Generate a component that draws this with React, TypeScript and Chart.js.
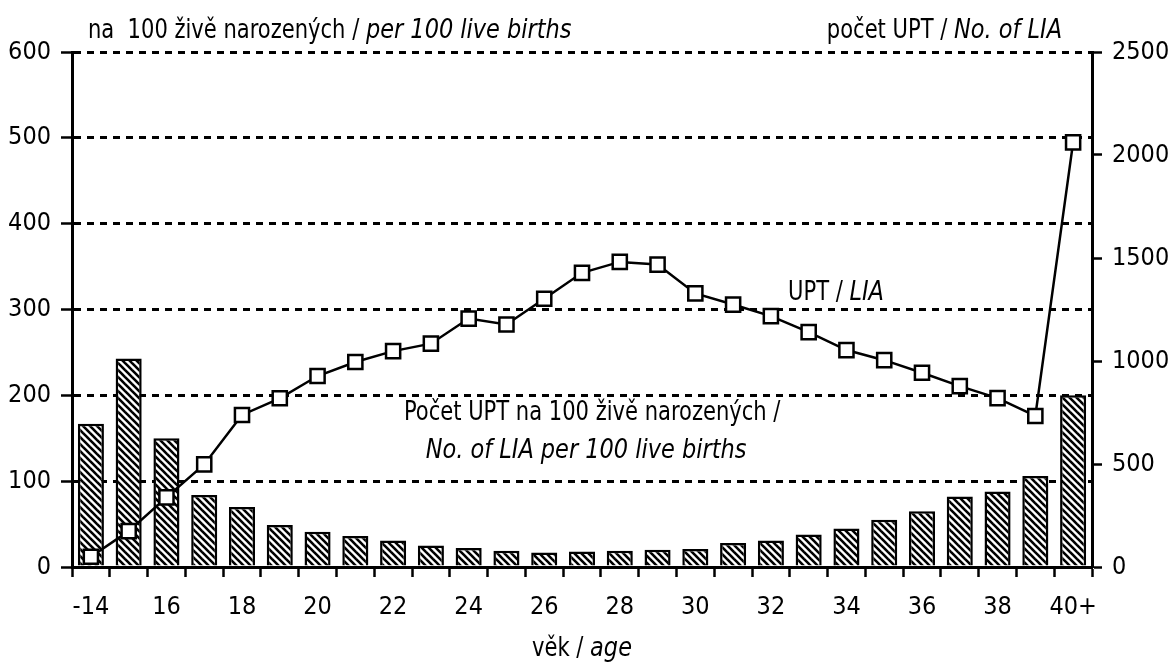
import React, { useEffect, useRef } from "react";
import { Chart, registerables } from "chart.js";

Chart.register(...registerables);

const categories = ["-14", "15", "16", "17", "18", "19", "20", "21", "22", "23", "24", "25", "26", "27", "28", "29", "30", "31", "32", "33", "34", "35", "36", "37", "38", "39", "40+"];
const perBirths = [167, 243, 150, 84, 70, 49, 41, 36, 31, 25, 22, 19, 17, 18, 19, 20, 21, 28, 31, 38, 45, 55, 65, 82, 88, 106, 200];
const liaCount = [50, 174, 338, 498, 738, 819, 927, 995, 1048, 1084, 1206, 1177, 1302, 1428, 1481, 1468, 1328, 1274, 1218, 1140, 1053, 1004, 943, 878, 820, 733, 2061];
const leftTicks = [0, 100, 200, 300, 400, 500, 600];
const rightTicks = [0, 500, 1000, 1500, 2000, 2500];

const FONT = "'Liberation Sans Narrow', 'Arial Narrow', 'DejaVu Sans Condensed', sans-serif";

type Seg = { t: string; i?: boolean };

function drawRich(ctx: CanvasRenderingContext2D, segs: Seg[], x: number, y: number, size: number, align: "left" | "center" | "right") {
  const fontOf = (s: Seg) => `${s.i ? "italic " : ""}${size}px ${FONT}`;
  const sxOf = (s: Seg) => (s.i ? 0.96 : 0.9);
  let total = 0;
  const widths = segs.map((s) => {
    ctx.font = fontOf(s);
    const w = ctx.measureText(s.t).width * sxOf(s);
    total += w;
    return w;
  });
  let cx = align === "left" ? x : align === "center" ? x - total / 2 : x - total;
  ctx.textBaseline = "middle";
  ctx.textAlign = "left";
  ctx.fillStyle = "#000";
  segs.forEach((s, k) => {
    ctx.save();
    ctx.font = fontOf(s);
    ctx.translate(cx, y);
    ctx.scale(sxOf(s), 1);
    ctx.fillText(s.t, 0, 0);
    ctx.restore();
    cx += widths[k];
  });
}

function makePattern(): CanvasPattern | string {
  const c = document.createElement("canvas");
  const n = 7;
  c.width = n;
  c.height = n;
  const g = c.getContext("2d");
  if (!g) return "#888";
  g.fillStyle = "#fff";
  g.fillRect(0, 0, n, n);
  g.strokeStyle = "#000";
  g.lineWidth = 2.6;
  for (let k = -1; k <= 1; k++) {
    g.beginPath();
    g.moveTo(k * n - 1, -1);
    g.lineTo(k * n + n + 1, n + 1);
    g.stroke();
  }
  const p = g.createPattern(c, "repeat");
  return p || "#888";
}

const textPlugin = {
  id: "texts",
  afterDraw(chart: any) {
    const ctx: CanvasRenderingContext2D = chart.ctx;
    const a = chart.chartArea;
    const W = a.right - a.left;
    const H = a.bottom - a.top;
    ctx.save();
    drawRich(ctx, [{ t: "na  100 živě narozených / " }, { t: "per 100 live births", i: true }], 88, 31, 26, "left");
    drawRich(ctx, [{ t: "počet UPT / " }, { t: "No. of LIA", i: true }], 1062, 31, 26, "right");
    drawRich(ctx, [{ t: "UPT / " }, { t: "LIA", i: true }], a.left + W * 0.702, a.top + H * 0.468, 26, "left");
    drawRich(ctx, [{ t: "Počet UPT na 100 živě narozených /" }], a.left + W * 0.51, a.top + H * 0.701, 26, "center");
    drawRich(ctx, [{ t: "No. of LIA per 100 live births", i: true }], a.left + W * 0.504, a.top + H * 0.775, 26, "center");
    drawRich(ctx, [{ t: "věk / " }, { t: "age", i: true }], (a.left + a.right) / 2, 649, 26, "center");
    ctx.restore();
  },
};

export default function App() {
  const ref = useRef<HTMLCanvasElement>(null);
  useEffect(() => {
    if (!ref.current) return;
    const pattern = makePattern();
    const chart = new Chart(ref.current, {
      data: {
        labels: categories,
        datasets: [
          {
            type: "line",
            data: liaCount,
            yAxisID: "y1",
            borderColor: "#000",
            borderWidth: 2.5,
            pointStyle: "rect",
            pointRadius: 10,
            pointBackgroundColor: "#fff",
            pointBorderColor: "#000",
            pointBorderWidth: 2.5,
            order: 0,
          } as any,
          {
            type: "bar",
            data: perBirths,
            yAxisID: "y",
            backgroundColor: pattern as any,
            borderColor: "#000",
            borderWidth: 2.5,
            barPercentage: 0.69,
            categoryPercentage: 1,
            order: 1,
          } as any,
        ],
      },
      options: {
        responsive: false,
        animation: false,
        devicePixelRatio: 1,
        layout: { padding: { top: 52, left: 0, right: 0, bottom: 0 } },
        plugins: { legend: { display: false }, tooltip: { enabled: false } },
        scales: {
          x: {
            type: "category",
            offset: true,
            afterFit: (s: any) => { s.height = 97; },
            grid: { display: true, drawOnChartArea: false, offset: true, tickLength: 10, tickWidth: 2.5, tickColor: "#000" },
            border: { color: "#000", width: 3 },
            ticks: {
              autoSkip: false,
              maxRotation: 0,
              padding: 15,
              color: "#000",
              font: { family: FONT, size: 25 },
              callback: (_v: any, i: number) => (i % 2 === 0 ? categories[i] : ""),
            },
          },
          y: {
            position: "left",
            min: 0,
            max: 600,
            afterFit: (s: any) => { s.width = 72; },
            afterBuildTicks: (s: any) => { s.ticks = leftTicks.map((v) => ({ value: v })); },
            grid: { color: "#000", lineWidth: 3, tickLength: 11, tickWidth: 2.5, tickColor: "#000" },
            border: { color: "#000", width: 3, dash: [7, 6] },
            ticks: { padding: 10, color: "#000", font: { family: FONT, size: 25 }, callback: (v: any) => String(v) },
          },
          y1: {
            position: "right",
            min: 0,
            max: 2500,
            afterFit: (s: any) => { s.width = 80; },
            afterBuildTicks: (s: any) => { s.ticks = rightTicks.map((v) => ({ value: v })); },
            grid: { drawOnChartArea: false, tickLength: 10, tickWidth: 2.5, tickColor: "#000", color: "#000" },
            border: { color: "#000", width: 3 },
            ticks: { padding: 10, color: "#000", font: { family: FONT, size: 25 }, callback: (v: any) => String(v) },
          },
        },
      },
      plugins: [textPlugin],
    } as any);
    return () => chart.destroy();
  }, []);
  return (
    <div style={{ position: "fixed", left: 0, top: 0, width: 1172, height: 664, background: "#fff" }}>
      <canvas ref={ref} width={1172} height={664} style={{ width: 1172, height: 664 }} />
    </div>
  );
}
